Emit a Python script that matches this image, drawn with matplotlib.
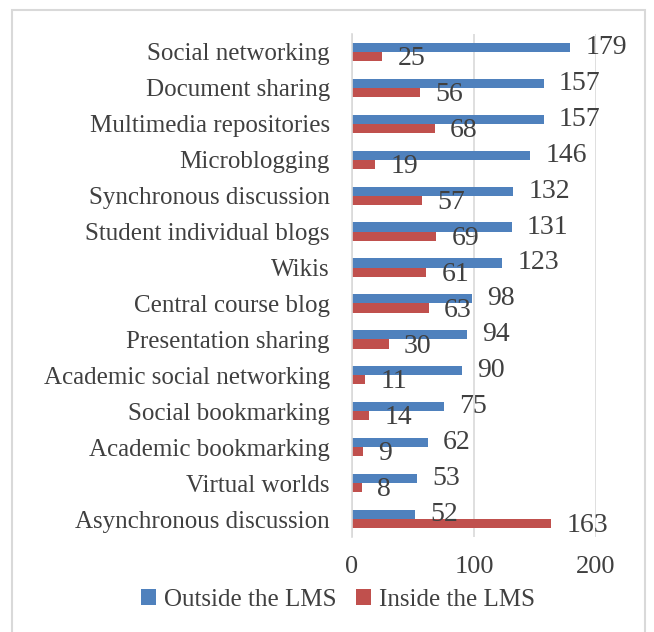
import numpy as np
import matplotlib.pyplot as plt
from matplotlib.patches import Rectangle

categories = ['Social networking', 'Document sharing', 'Multimedia repositories',
              'Microblogging', 'Synchronous discussion', 'Student individual blogs',
              'Wikis', 'Central course blog', 'Presentation sharing',
              'Academic social networking', 'Social bookmarking',
              'Academic bookmarking', 'Virtual worlds', 'Asynchronous discussion']
outside = [179, 157, 157, 146, 132, 131, 123, 98, 94, 90, 75, 62, 53, 52]
inside = [25, 56, 68, 19, 57, 69, 61, 63, 30, 11, 14, 9, 8, 163]

blue = '#4F81BD'
red = '#C0504D'
txt = '#404040'

plt.rcParams['font.family'] = ['Liberation Serif', 'DejaVu Serif']

fig = plt.figure(figsize=(6.54, 6.32), dpi=100)
ax = fig.add_axes([352/654, 1 - 537/632, 244/654, 503/632])

# outer chart border
fig.patches.append(Rectangle((12/654, -0.01), 633/654, 1 - 10/632 + 0.01,
                             transform=fig.transFigure, fill=False,
                             edgecolor='#d9d9d9', lw=1.5))

y = np.arange(len(categories))
h = 0.255
ax.barh(y - h/2, outside, height=h, color=blue, label='Outside the LMS')
ax.barh(y + h/2, inside, height=h, color=red, label='Inside the LMS')

for i in range(len(categories)):
    ax.annotate(str(outside[i]), (outside[i], y[i] - h/2), xytext=(11, 0),
                textcoords='offset points', va='center', ha='left',
                fontsize=20, color=txt)
    ax.annotate(str(inside[i]), (inside[i], y[i] + h/2), xytext=(11, -1.5),
                textcoords='offset points', va='center', ha='left',
                fontsize=20, color=txt)

ax.set_xlim(0, 200)
ax.set_ylim(len(categories) - 0.5, -0.5)
ax.set_xticks([0, 100, 200])
ax.set_yticks(y)
ax.set_yticklabels(categories)
ax.tick_params(axis='y', length=0, pad=16, labelsize=18, labelcolor=txt)
ax.tick_params(axis='x', length=0, pad=14, labelsize=19, labelcolor=txt)
ax.grid(axis='x', color='#d9d9d9', lw=1.2)
ax.set_axisbelow(True)
for s in ['top', 'right', 'bottom']:
    ax.spines[s].set_visible(False)
ax.spines['left'].set_color('#d9d9d9')
ax.spines['left'].set_linewidth(1.2)

fig.legend(loc='center', bbox_to_anchor=(338/654, 1 - 600/632), ncol=2,
           frameon=False, fontsize=18, handlelength=0.6, handleheight=0.6,
           handletextpad=0.3, columnspacing=0.8, labelcolor=txt)

fig.savefig('out.png', dpi=100)
